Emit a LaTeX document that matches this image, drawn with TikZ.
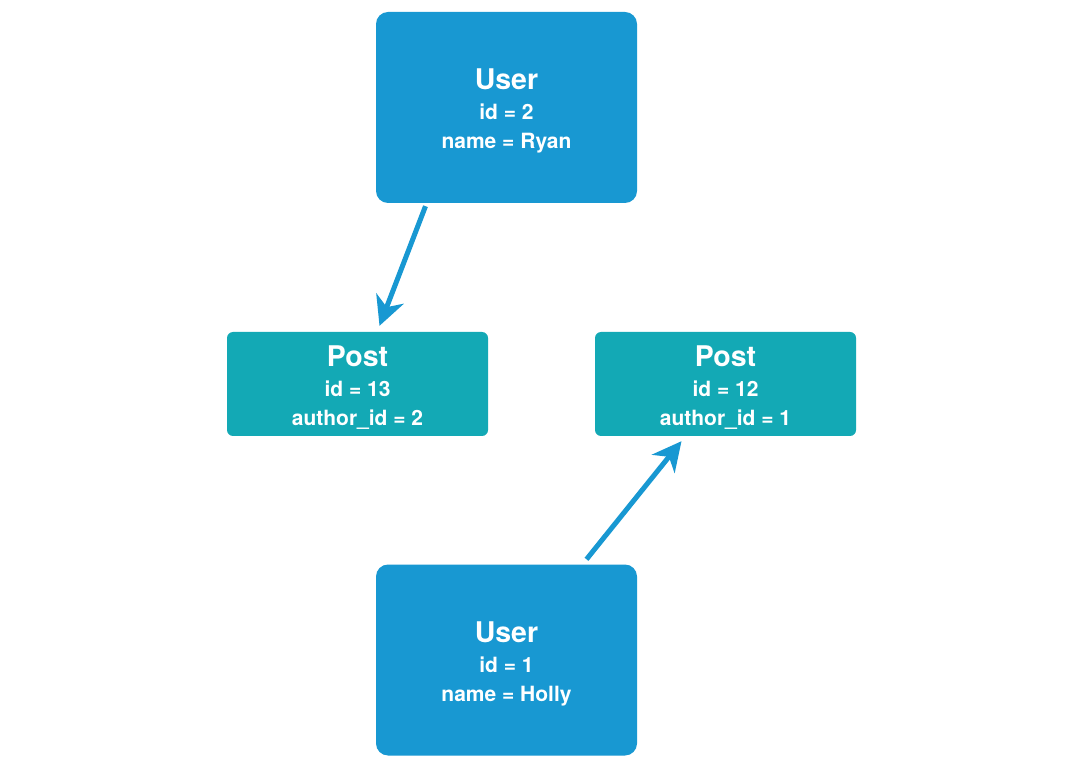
\documentclass[tikz,border=0pt]{standalone}
\usepackage{fontspec}
\setmainfont{TeX Gyre Heros}
\usetikzlibrary{arrows.meta}
\definecolor{userblue}{HTML}{1898D2}
\definecolor{postteal}{HTML}{13A9B5}
\tikzset{
  userbox/.style={fill=userblue, draw=none, rounded corners=12pt, minimum width=261pt, minimum height=191pt, inner sep=0pt},
  postbox/.style={fill=postteal, draw=none, rounded corners=6pt, minimum width=261pt, minimum height=104pt, inner sep=0pt},
  ttl/.style={anchor=base, text=white, font=\bfseries\fontsize{28.5}{32}\selectfont, inner sep=0pt},
  fld/.style={anchor=base, text=white, font=\bfseries\fontsize{21}{24}\selectfont, inner sep=0pt},
  link/.style={draw=userblue, line width=5pt, -{Stealth[length=29pt, width=29pt, inset=9pt]}, shorten >=0pt}
}
\begin{document}
\begin{tikzpicture}[x=1pt,y=-1pt]
\useasboundingbox (0,0) rectangle (1072,767);
\fill[white] (0,0) rectangle (1072,767);

\node[userbox] (u2) at (506.5,107.5) {};
\node[ttl] (u2t) at ([yshift=17.5pt]u2.center) {User};
\node[fld] (u2a) at ([yshift=-12.5pt]u2.center) {id = 2};
\node[fld] (u2b) at ([yshift=-41.5pt]u2.center) {name = Ryan};

\node[postbox] (p13) at (357.5,384) {};
\node[ttl] (p13t) at ([yshift=17pt]p13.center) {Post};
\node[fld] (p13a) at ([yshift=-13pt]p13.center) {id = 13};
\node[fld] (p13b) at ([yshift=-42pt]p13.center) {author\_id = 2};

\node[postbox] (p12) at (725.5,384) {};
\node[ttl] (p12t) at ([yshift=17pt]p12.center) {Post};
\node[fld] (p12a) at ([yshift=-13pt]p12.center) {id = 12};
\node[fld] (p12b) at ([yshift=-42pt]p12.center) {author\_id = 1};

\node[userbox] (u1) at (506.5,660) {};
\node[ttl] (u1t) at ([yshift=17.5pt]u1.center) {User};
\node[fld] (u1a) at ([yshift=-12.5pt]u1.center) {id = 1};
\node[fld] (u1b) at ([yshift=-41.5pt]u1.center) {name = Holly};

\draw[link] ([xshift=-81pt,yshift=-3pt]u2.south) -- ([xshift=22pt,yshift=6pt]p13.north);
\draw[link] ([xshift=80pt,yshift=5pt]u1.north) -- ([xshift=-44pt,yshift=-5pt]p12.south);
\end{tikzpicture}
\end{document}
